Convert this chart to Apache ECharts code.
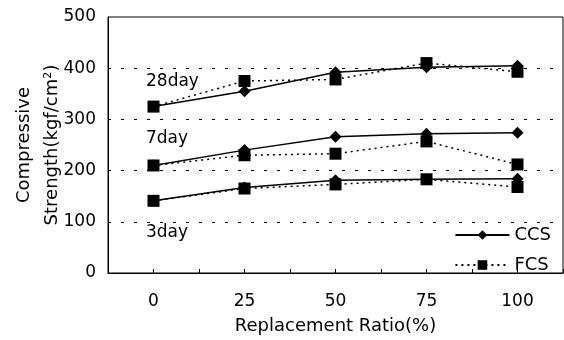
<!DOCTYPE html>
<html><head><meta charset="utf-8">
<script src="https://cdn.jsdelivr.net/npm/echarts@6/dist/echarts.min.js"></script>
<style>html,body{margin:0;padding:0;background:#fff}#c{width:564px;height:340px}</style>
</head><body><div id="c"></div>
<script>
const ratios = [0, 25, 50, 75, 100];
const ccs28 = [325, 355, 392, 402, 405];
const fcs28 = [325, 375, 378, 410, 393];
const ccs7 = [210, 240, 266, 272, 274];
const fcs7 = [210, 230, 233, 257, 212];
const ccs3 = [141, 167, 181, 183, 184];
const fcs3 = [141, 165, 173, 183, 168];
const yTicks = [0, 100, 200, 300, 400, 500];
const ageLabels = ['28day', '7day', '3day'];

const FONT = 'DejaVu Sans, sans-serif';
const FS = 17;
const pair = (arr) => ratios.map((r, i) => [r, arr[i]]);

function ccsSeries(arr, withGrid) {
  const s = { name: 'CCS', type: 'line', data: pair(arr), symbol: 'diamond', symbolSize: 12,
    itemStyle: { color: '#000' }, lineStyle: { color: '#000', width: 1.5, type: 'solid' }, z: 2, animation: false };
  if (withGrid) {
    s.markLine = {
      silent: true, symbol: ['none', 'none'], animation: false, z: 1,
      label: { show: false },
      lineStyle: { color: '#000', width: 1, type: [3, 10] },
      emphasis: { disabled: true },
      data: yTicks.filter(v => v > 0 && v < 500).map(v => ({ yAxis: v }))
    };
  }
  return s;
}
function fcsSeries(arr) {
  return { name: 'FCS', type: 'line', data: pair(arr), symbol: 'rect', symbolSize: 12,
    itemStyle: { color: '#000' }, lineStyle: { color: '#000', width: 1.5, type: [2, 4] }, z: 3, animation: false };
}

const chart = echarts.init(document.getElementById('c'), null, { renderer: 'canvas' });
chart.setOption({
  animation: false,
  backgroundColor: '#fff',
  textStyle: { fontFamily: FONT },
  grid: { left: 108, top: 17, right: 1, bottom: 67, show: true, borderColor: '#000', borderWidth: 1,
    backgroundColor: 'rgba(0,0,0,0)', containLabel: false, outerBoundsMode: 'none' },
  legend: {
    data: ['CCS', 'FCS'],
    orient: 'vertical', right: 8, top: 221, itemWidth: 54, itemHeight: 12, itemGap: 12,
    textStyle: { color: '#000', fontSize: 18, fontFamily: FONT }
  },
  xAxis: {
    type: 'value', min: -12.5, max: 112.5, interval: 12.5,
    name: 'Replacement Ratio(%)', nameLocation: 'middle', nameGap: 44, nameMoveOverlap: false,
    nameTextStyle: { color: '#000', fontSize: 18, fontFamily: FONT },
    axisLine: { show: true, onZero: false, lineStyle: { color: '#000' } },
    axisTick: { show: true, inside: true, length: 4, lineStyle: { color: '#000' } },
    axisLabel: { color: '#000', fontSize: FS, margin: 20, fontFamily: FONT,
      formatter: (v) => ratios.includes(v) ? String(v) : '' },
    splitLine: { show: false }
  },
  yAxis: {
    type: 'value', min: 0, max: 500, interval: 100,
    name: 'Compressive\nStrength(kgf/cm²)', nameLocation: 'middle', nameGap: 42, nameMoveOverlap: false,
    nameTextStyle: { color: '#000', fontSize: 18, lineHeight: 28, fontFamily: FONT },
    axisLine: { show: true, onZero: false, lineStyle: { color: '#000' } },
    axisTick: { show: false },
    axisLabel: { color: '#000', fontSize: FS, margin: 12, fontFamily: FONT,
      formatter: (v) => yTicks.includes(v) ? String(v) : '' },
    splitLine: { show: false }
  },
  graphic: [
    { type: 'text', left: 146, top: 73, style: { text: ageLabels[0], fontSize: FS, fill: '#000', fontFamily: FONT } },
    { type: 'text', left: 146, top: 130, style: { text: ageLabels[1], fontSize: FS, fill: '#000', fontFamily: FONT } },
    { type: 'text', left: 146, top: 224, style: { text: ageLabels[2], fontSize: FS, fill: '#000', fontFamily: FONT } }
  ],
  series: [ccsSeries(ccs28, true), fcsSeries(fcs28), ccsSeries(ccs7), fcsSeries(fcs7), ccsSeries(ccs3), fcsSeries(fcs3)]
});
</script></body></html>
